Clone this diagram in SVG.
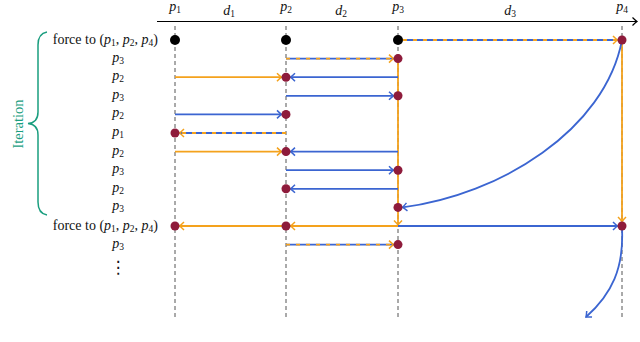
<svg xmlns="http://www.w3.org/2000/svg" width="640" height="342" viewBox="0 0 640 342">
<style>
text{font-family:"Liberation Serif","DejaVu Serif",serif;font-size:14px;fill:#111}
.it{font-style:italic}
.sub{font-size:9.5px}
.grid{stroke:#555;stroke-width:1;stroke-dasharray:4 3;fill:none}
.b{stroke:#3b65d1;stroke-width:1.8;fill:none}
.o{stroke:#f4a21d;stroke-width:1.8;fill:none}
.od{stroke:#f4a21d;stroke-width:1.8;fill:none;stroke-dasharray:4 6}
.r{fill:#8e1b3b}
.k{fill:#000}
</style>
<defs>
<marker id="ab" markerWidth="9" markerHeight="10" refX="7" refY="5" orient="auto" markerUnits="userSpaceOnUse"><path d="M2.5,1 Q5.5,4 7,5 Q5.5,6 2.5,9" fill="none" stroke="#3b65d1" stroke-width="1.5"/></marker>
<marker id="ao" markerWidth="9" markerHeight="10" refX="7" refY="5" orient="auto" markerUnits="userSpaceOnUse"><path d="M2.5,1 Q5.5,4 7,5 Q5.5,6 2.5,9" fill="none" stroke="#f4a21d" stroke-width="1.5"/></marker>
<marker id="ak" markerWidth="9" markerHeight="10" refX="7" refY="5" orient="auto" markerUnits="userSpaceOnUse"><path d="M2.5,1 Q5.5,4 7,5 Q5.5,6 2.5,9" fill="none" stroke="#000" stroke-width="1.2"/></marker>
</defs>
<rect width="640" height="342" fill="#fff"/>

<g id="axis">
<line x1="157" y1="21.5" x2="637" y2="21.5" stroke="#000" stroke-width="1.2" marker-end="url(#ak)"/>
<text x="175" y="11" text-anchor="middle"><tspan class="it">p</tspan><tspan class="sub" dy="2">1</tspan></text>
<text x="286" y="11" text-anchor="middle"><tspan class="it">p</tspan><tspan class="sub" dy="2">2</tspan></text>
<text x="398" y="11" text-anchor="middle"><tspan class="it">p</tspan><tspan class="sub" dy="2">3</tspan></text>
<text x="622" y="11" text-anchor="middle"><tspan class="it">p</tspan><tspan class="sub" dy="2">4</tspan></text>
<text x="229" y="15" text-anchor="middle"><tspan class="it">d</tspan><tspan class="sub" dy="2">1</tspan></text>
<text x="341" y="15" text-anchor="middle"><tspan class="it">d</tspan><tspan class="sub" dy="2">2</tspan></text>
<text x="510" y="15" text-anchor="middle"><tspan class="it">d</tspan><tspan class="sub" dy="2">3</tspan></text>
</g>

<g id="gridlines">
<line class="grid" x1="175" y1="26" x2="175" y2="318"/>
<line class="grid" x1="286" y1="26" x2="286" y2="318"/>
<line class="grid" x1="398" y1="26" x2="398" y2="318"/>
<line class="grid" x1="622" y1="26" x2="622" y2="318"/>
</g>

<g id="iteration">
<path d="M47,32 C41,33 38,37 38,45 L38,112 C38,119 34,123 28,123.5 C34,124 38,128 38,135 L38,202 C38,210 41,214 47,215" fill="none" stroke="#1a9e7f" stroke-width="1.5"/>
<text transform="translate(22.5,124) rotate(-90)" text-anchor="middle" style="fill:#1a9e7f;font-size:14.5px">Iteration</text>
</g>

<g id="labels">
<text x="158" y="44" text-anchor="end">force to (<tspan class="it">p</tspan><tspan class="sub" dy="2">1</tspan><tspan dy="-2">, </tspan><tspan class="it">p</tspan><tspan class="sub" dy="2">2</tspan><tspan dy="-2">, </tspan><tspan class="it">p</tspan><tspan class="sub" dy="2">4</tspan><tspan dy="-2">)</tspan></text>
<text x="118" y="61.5" text-anchor="middle"><tspan class="it">p</tspan><tspan class="sub" dy="2">3</tspan></text>
<text x="118" y="80" text-anchor="middle"><tspan class="it">p</tspan><tspan class="sub" dy="2">2</tspan></text>
<text x="118" y="98.7" text-anchor="middle"><tspan class="it">p</tspan><tspan class="sub" dy="2">3</tspan></text>
<text x="118" y="117.3" text-anchor="middle"><tspan class="it">p</tspan><tspan class="sub" dy="2">2</tspan></text>
<text x="118" y="136" text-anchor="middle"><tspan class="it">p</tspan><tspan class="sub" dy="2">1</tspan></text>
<text x="118" y="154.5" text-anchor="middle"><tspan class="it">p</tspan><tspan class="sub" dy="2">2</tspan></text>
<text x="118" y="173.1" text-anchor="middle"><tspan class="it">p</tspan><tspan class="sub" dy="2">3</tspan></text>
<text x="118" y="191.7" text-anchor="middle"><tspan class="it">p</tspan><tspan class="sub" dy="2">2</tspan></text>
<text x="118" y="210.3" text-anchor="middle"><tspan class="it">p</tspan><tspan class="sub" dy="2">3</tspan></text>
<text x="158" y="230" text-anchor="end">force to (<tspan class="it">p</tspan><tspan class="sub" dy="2">1</tspan><tspan dy="-2">, </tspan><tspan class="it">p</tspan><tspan class="sub" dy="2">2</tspan><tspan dy="-2">, </tspan><tspan class="it">p</tspan><tspan class="sub" dy="2">4</tspan><tspan dy="-2">)</tspan></text>
<text x="118" y="247.5" text-anchor="middle"><tspan class="it">p</tspan><tspan class="sub" dy="2">3</tspan></text>
<text x="118" y="273" text-anchor="middle" style="font-family:'DejaVu Sans',sans-serif;font-size:17px">⋮</text>
</g>

<g id="connectors">
<line class="o" x1="398" y1="58.6" x2="398" y2="225" marker-end="url(#ao)"/>
<line class="o" x1="622" y1="40" x2="622" y2="221.5" marker-end="url(#ao)"/>
<line class="b" x1="403" y1="40" x2="617.5" y2="40"/>
<line class="od" x1="403" y1="40" x2="617.5" y2="40" marker-end="url(#ao)"/>
<line class="b" x1="286" y1="58.6" x2="393.5" y2="58.6"/>
<line class="od" x1="286" y1="58.6" x2="393.5" y2="58.6" marker-end="url(#ao)"/>
<line class="o" x1="175" y1="77.2" x2="281.5" y2="77.2" marker-end="url(#ao)"/>
<line class="b" x1="398" y1="77.2" x2="290.5" y2="77.2" marker-end="url(#ab)"/>
<line class="b" x1="286" y1="95.8" x2="393.5" y2="95.8" marker-end="url(#ab)"/>
<line class="b" x1="175" y1="114.4" x2="281.5" y2="114.4" marker-end="url(#ab)"/>
<line class="b" x1="286" y1="133" x2="179.5" y2="133"/>
<line class="od" x1="286" y1="133" x2="179.5" y2="133" marker-end="url(#ao)"/>
<line class="o" x1="175" y1="151.6" x2="281.5" y2="151.6" marker-end="url(#ao)"/>
<line class="b" x1="398" y1="151.6" x2="290.5" y2="151.6" marker-end="url(#ab)"/>
<line class="b" x1="286" y1="170.2" x2="393.5" y2="170.2" marker-end="url(#ab)"/>
<line class="b" x1="398" y1="188.8" x2="290.5" y2="188.8" marker-end="url(#ab)"/>
<path class="b" d="M622,40 C605,130 500,195 402.5,207.4" marker-end="url(#ab)"/>
<line class="o" x1="286" y1="226" x2="179.5" y2="226" marker-end="url(#ao)"/>
<line class="o" x1="398" y1="226" x2="290.5" y2="226" marker-end="url(#ao)"/>
<line class="b" x1="398" y1="226" x2="617.5" y2="226" marker-end="url(#ab)"/>
<path class="b" d="M622,228 C624,268 612,294 586,317" marker-end="url(#ab)"/>
<line class="b" x1="286" y1="244.6" x2="393.5" y2="244.6"/>
<line class="od" x1="286" y1="244.6" x2="393.5" y2="244.6" marker-end="url(#ao)"/>
</g>

<g id="points">
<circle class="k" cx="175" cy="40" r="5"/>
<circle class="k" cx="286" cy="40" r="5"/>
<circle class="k" cx="398" cy="40" r="5"/>
<circle class="r" cx="622" cy="40" r="4.5"/>
<circle class="r" cx="398" cy="58.6" r="4.5"/>
<circle class="r" cx="286" cy="77.2" r="4.5"/>
<circle class="r" cx="398" cy="95.8" r="4.5"/>
<circle class="r" cx="286" cy="114.4" r="4.5"/>
<circle class="r" cx="175" cy="133" r="4.5"/>
<circle class="r" cx="286" cy="151.6" r="4.5"/>
<circle class="r" cx="398" cy="170.2" r="4.5"/>
<circle class="r" cx="286" cy="188.8" r="4.5"/>
<circle class="r" cx="398" cy="207.4" r="4.5"/>
<circle class="r" cx="175" cy="226" r="4.5"/>
<circle class="r" cx="286" cy="226" r="4.5"/>
<circle class="r" cx="622" cy="226" r="4.5"/>
<circle class="r" cx="398" cy="244.6" r="4.5"/>
</g>
</svg>
